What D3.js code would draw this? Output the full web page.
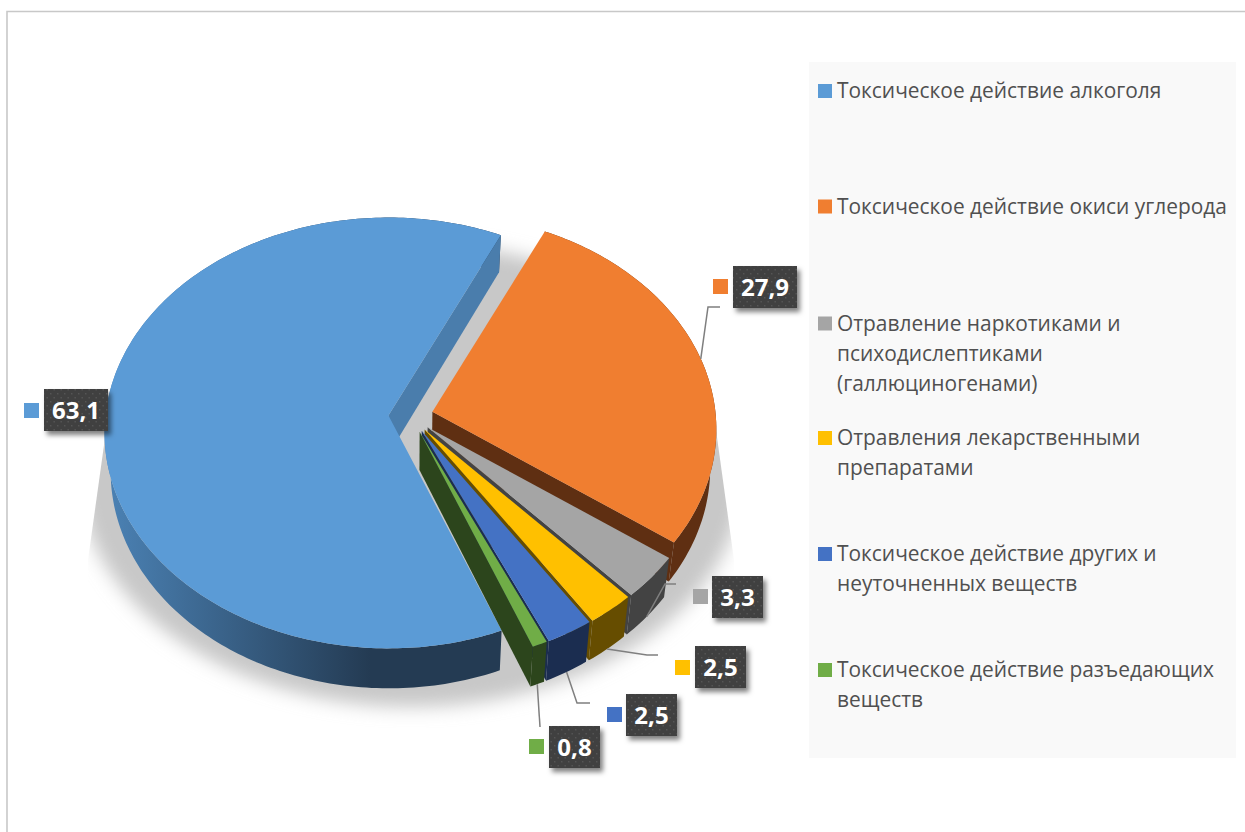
<!DOCTYPE html>
<html>
<head>
<meta charset="utf-8">
<script src="https://cdnjs.cloudflare.com/ajax/libs/d3/7.8.5/d3.min.js"></script>
<style>
    html, body { margin: 0; padding: 0; background: #fff; }
    svg { display: block; }
    text { font-family: "Open Sans", sans-serif; }
</style>
</head>
<body>
<svg id="chart" width="1245" height="832"></svg>
<script>
// chart data
const categories = [
    "Токсическое действие алкоголя",
    "Токсическое действие окиси углерода",
    "Отравление наркотиками и психодислептиками (галлюциногенами)",
    "Отравления лекарственными препаратами",
    "Токсическое действие других и неуточненных веществ",
    "Токсическое действие разъедающих веществ"
];
const values = [63.1, 27.9, 3.3, 2.5, 2.5, 0.8];
const valueLabels = ["63,1", "27,9", "3,3", "2,5", "2,5", "0,8"];
const legendLines = [
    ["Токсическое действие алкоголя"],
    ["Токсическое действие окиси углерода"],
    ["Отравление наркотиками и", "психодислептиками", "(галлюциногенами)"],
    ["Отравления лекарственными", "препаратами"],
    ["Токсическое действие других и", "неуточненных веществ"],
    ["Токсическое действие разъедающих", "веществ"]
];

// colours
const topColors = ["#5b9bd6", "#f07e30", "#a5a5a5", "#ffc000", "#4472c4", "#70ad47"];
const sideColors = ["url(#blueSide)", "#5f2f12", "#434343", "#664d00", "#1b2d50", "#2c451c"];
const wallColors = ["#4a7dac", "#5f2f12", "#434343", "#664d00", "#1b2d50", "#2c451c"];

// hand placed layout
const legendBaselines = [98, 213.5, 330.5, 445, 561, 677];
const labelBoxes = [[44, 389, 64], [733, 266, 64], [712, 576, 51], [695, 646, 51], [626, 694, 51], [549, 726, 51]];
const labelSwatches = [[24, 403], [713, 279], [693, 589], [675, 660], [607, 707], [529, 739]];
const leaderEnds = [null, [[708, 307], [720, 307]], [[665, 584], [676, 584]], [[647, 655], [658, 655]], [[577, 703], [590, 703]], [[540, 727]]];

// pie geometry, unit circle seen in perspective
const cx = 410.8, cy = 416;
const rx = 283, ry = 214, persp = 0.0812;
const explode = 0.079;
const depth = 38.3, depthGrow = 0.007, bottomShrink = 0.98;
const startDeg = 158.3;

const rad = d => d * Math.PI / 180;
const color = d3.scaleOrdinal().domain(d3.range(values.length)).range(topColors);

// perspective of a point of the unit circle, relative to the slice apex
const persView = (ux, uy) => {
    let den = 1 - persp * uy;
    return [rx * ux / den, ry * uy / den];
};
const unit = a => [Math.sin(a), -Math.cos(a)];

const apexOf = d => {
    let u = unit((d.startAngle + d.endAngle) / 2);
    let p = persView(u[0] * explode, u[1] * explode);
    return [cx + p[0], cy + p[1]];
};
const rimPoint = (d, a) => {
    let ap = apexOf(d);
    let u = unit(a);
    let p = persView(u[0], u[1]);
    return [ap[0] + p[0], ap[1] + p[1]];
};
const lower = p => [cx + bottomShrink * (p[0] - cx), p[1] + depth + (p[1] - cy) * depthGrow];

const pie = d3.pie().sort(null).startAngle(rad(startDeg)).endAngle(rad(startDeg + 360));
const slices = pie(values).map((d, i) => Object.assign(d, {i: i}));
const line = d3.line();

const anglesOf = d => {
    let n = Math.max(2, Math.ceil((d.endAngle - d.startAngle) / rad(1)));
    return d3.range(n + 1).map(k => d.startAngle + (d.endAngle - d.startAngle) * k / n);
};
const rimOf = d => anglesOf(d).map(a => rimPoint(d, a));

const svg = d3.select("#chart");
const defs = svg.append("defs");

const blueSide = defs.append("linearGradient").attr("id", "blueSide")
    .attr("gradientUnits", "userSpaceOnUse")
    .attr("x1", 113).attr("x2", 370).attr("y1", 0).attr("y2", 0);
blueSide.append("stop").attr("offset", 0).attr("stop-color", "#4a80b2");
blueSide.append("stop").attr("offset", 1).attr("stop-color", "#243b53");

defs.append("filter").attr("id", "pieBlur")
    .attr("x", "-10%").attr("y", "-10%").attr("width", "120%").attr("height", "120%")
    .append("feGaussianBlur").attr("stdDeviation", 9);

let boxShadow = defs.append("filter").attr("id", "boxShadow")
    .attr("x", "-20%").attr("y", "-20%").attr("width", "150%").attr("height", "150%");
boxShadow.append("feDropShadow")
    .attr("dx", 3).attr("dy", 4).attr("stdDeviation", 2.5)
    .attr("flood-color", "#000").attr("flood-opacity", 0.5);

// dotted fill of the data labels
let dots = defs.append("pattern").attr("id", "dots")
    .attr("patternUnits", "userSpaceOnUse").attr("width", 7).attr("height", 8);
dots.append("rect").attr("width", 7).attr("height", 8).attr("fill", "#404040");
dots.append("rect").attr("x", 1).attr("y", 1).attr("width", 1.4).attr("height", 1.4).attr("fill", "#555");
dots.append("rect").attr("x", 4.5).attr("y", 5).attr("width", 1.4).attr("height", 1.4).attr("fill", "#555");

defs.append("clipPath").attr("id", "shadowClip")
    .append("polygon")
    .attr("points", "105,438 300,200 540,200 716,430 734,560 734,780 88,780 88,560");

// frame
svg.append("path").attr("d", "M7,832V11.5H1245")
    .attr("fill", "none").attr("stroke", "#c8c8c8").attr("stroke-width", 1.6);

// legend panel
svg.append("rect")
    .attr("x", 809).attr("y", 62).attr("width", 427).attr("height", 696)
    .attr("fill", "#f9f9f9");

// shadow under the pie
svg.append("g").attr("clip-path", "url(#shadowClip)")
    .append("ellipse")
    .attr("cx", 411).attr("cy", 475).attr("rx", 332).attr("ry", 232)
    .attr("fill", "#c8c8c8")
    .attr("filter", "url(#pieBlur)");

// slices are painted back to front
const pieG = svg.append("g");
slices.forEach(d => {
    let g = pieG.append("g").attr("class", "slice");
    let rim = rimOf(d);
    let ap = apexOf(d);

    // outer side
    g.append("path")
        .attr("d", line(rim.concat(rim.map(lower).reverse())) + "Z")
        .attr("fill", sideColors[d.i]);

    // wall below the clockwise end edge
    let end = rim[rim.length - 1];
    g.append("path")
        .attr("d", line([ap, end, lower(end), lower(ap)]) + "Z")
        .attr("fill", wallColors[d.i]);

    // top face
    g.append("path")
        .attr("d", line([ap].concat(rim)) + "Z")
        .attr("fill", color(d.i));
});

// leader lines
svg.append("g").selectAll("path")
    .data(slices.filter(d => leaderEnds[d.i]))
    .join("path")
    .attr("d", d => {
        let p = rimPoint(d, (d.startAngle + d.endAngle) / 2);
        let start = d.i === 1 ? p : lower(p);
        return line([start].concat(leaderEnds[d.i]));
    })
    .attr("fill", "none")
    .attr("stroke", "#7f7f7f")
    .attr("stroke-width", 1.5);

// data labels
const labels = svg.append("g").selectAll("g")
    .data(slices)
    .join("g");
labels.append("rect")
    .attr("x", d => labelSwatches[d.i][0])
    .attr("y", d => labelSwatches[d.i][1])
    .attr("width", 15).attr("height", 15)
    .attr("fill", d => color(d.i));
labels.append("rect")
    .attr("x", d => labelBoxes[d.i][0])
    .attr("y", d => labelBoxes[d.i][1])
    .attr("width", d => labelBoxes[d.i][2])
    .attr("height", 42)
    .attr("fill", "url(#dots)")
    .attr("filter", "url(#boxShadow)");
labels.append("text")
    .attr("x", d => labelBoxes[d.i][0] + labelBoxes[d.i][2] / 2)
    .attr("y", d => labelBoxes[d.i][1] + 30)
    .attr("text-anchor", "middle")
    .attr("font-size", 24)
    .attr("font-weight", 700)
    .attr("fill", "#fff")
    .text(d => valueLabels[d.i]);

// legend
const legendRows = svg.append("g").selectAll("g")
    .data(categories)
    .join("g");
legendRows.append("rect")
    .attr("x", 818)
    .attr("y", (d, i) => legendBaselines[i] - 14)
    .attr("width", 14).attr("height", 14)
    .attr("fill", (d, i) => color(i));
legendRows.each(function(d, i) {
    d3.select(this).selectAll("text")
        .data(legendLines[i])
        .join("text")
        .attr("x", 837)
        .attr("y", (t, k) => legendBaselines[i] + k * 30)
        .attr("font-size", 20.9)
        .attr("fill", "#505050")
        .text(t => t);
});
</script>
</body>
</html>
